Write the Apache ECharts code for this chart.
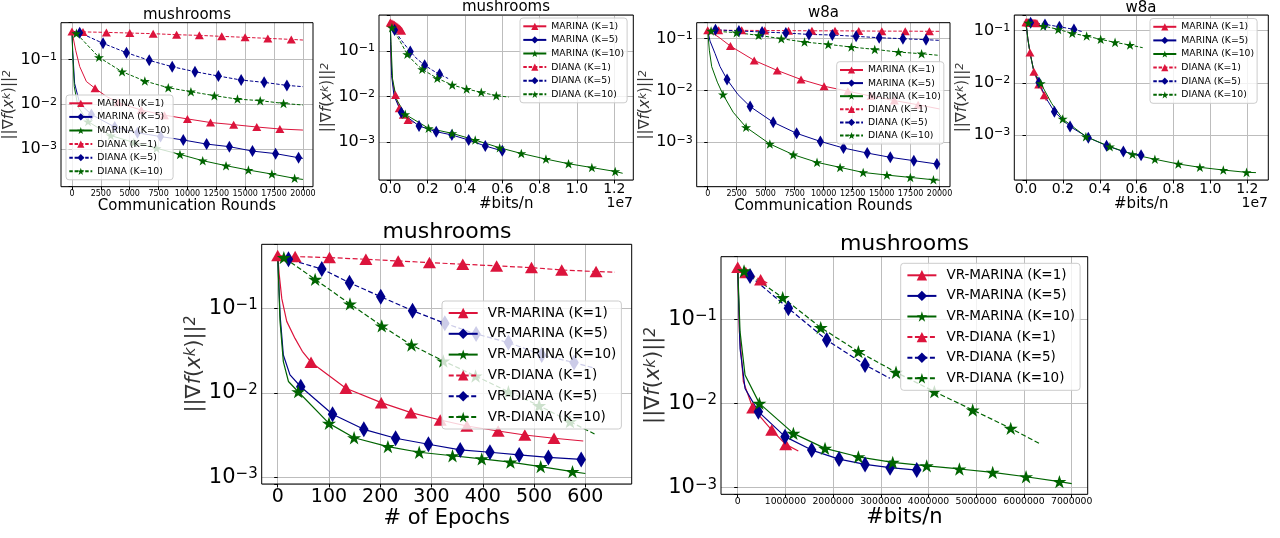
<!DOCTYPE html>
<html>
<head>
<meta charset="utf-8">
<script src="https://cdn.jsdelivr.net/npm/echarts@6.0.0/dist/echarts.min.js"></script>
<style>
html,body{margin:0;padding:0;background:#fff;}
#chart{width:1280px;height:538px;}
</style>
</head>
<body>
<div id="chart"></div>
<script>
// ================= tick values & texts =================
const ticksRounds = [0,2500,5000,7500,10000,12500,15000,17500,20000];
const ticksBits1e7 = [0,2000000,4000000,6000000,8000000,10000000,12000000];
const ticksEpochs = [0,100,200,300,400,500,600];
const ticksBits = [0,1000000,2000000,3000000,4000000,5000000,6000000,7000000];

const namesTop = ['MARINA (K=1)','MARINA (K=5)','MARINA (K=10)','DIANA (K=1)','DIANA (K=5)','DIANA (K=10)'];
const namesVR = ['VR-MARINA (K=1)','VR-MARINA (K=5)','VR-MARINA (K=10)','VR-DIANA (K=1)','VR-DIANA (K=5)','VR-DIANA (K=10)'];
const titles = ['mushrooms','mushrooms','w8a','w8a','mushrooms','mushrooms'];
const xNames = ['Communication Rounds','#bits/n','Communication Rounds','#bits/n','# of Epochs','#bits/n'];

// ================= data (_m: points with marker, _c: line-only points) =================
// Panel 1: mushrooms, communication rounds
const p1_mk1_m = [[0,0.42],[2000,0.0226],[4000,0.011],[6000,0.0074],[8000,0.0057],[10000,0.0047],[12000,0.0039],[14000,0.0035],[16000,0.0031],[18000,0.0028]];
const p1_mk1_c = [[320,0.16],[670,0.069],[1250,0.032],[3000,0.0148],[5000,0.0089],[20000,0.00265]];
const p1_mk5_m = [[1680,0.0059],[3700,0.0031],[5670,0.0023],[7670,0.0019],[9640,0.00159],[11660,0.00129],[13630,0.00113],[15630,0.0009],[17630,0.00079],[19620,0.00064]];
const p1_mk5_c = [[0,0.42],[60,0.16],[230,0.029],[670,0.0104],[20000,0.00062]];
const p1_mk10_m = [[1390,0.0041],[3360,0.002],[5360,0.0014],[7320,0.00104],[9350,0.00076],[11320,0.00055],[13340,0.000425],[15280,0.00034],[17310,0.000277],[19280,0.000222]];
const p1_mk10_c = [[0,0.42],[60,0.14],[200,0.0246],[520,0.0088],[20000,0.00021]];
const p1_dk1_m = [[955,0.41],[2980,0.40],[5010,0.387],[7030,0.374],[9060,0.355],[11030,0.343],[12970,0.326],[14990,0.31],[16960,0.294],[18990,0.279]];
const p1_dk1_c = [[0,0.42],[20000,0.27]];
const p1_dk5_m = [[670,0.394],[2690,0.228],[4720,0.141],[6690,0.095],[8680,0.0686],[10650,0.0531],[12680,0.0425],[14650,0.0346],[16640,0.0307],[18610,0.0263]];
const p1_dk5_c = [[0,0.42],[20000,0.0246]];
const p1_dk10_m = [[380,0.38],[2340,0.111],[4340,0.053],[6310,0.0329],[8340,0.0233],[10300,0.019],[12330,0.0155],[14330,0.013],[16300,0.012],[18320,0.0104]];
const p1_dk10_c = [[0,0.42],[20000,0.0096]];

// Panel 2: mushrooms, #bits/n
const p2_mk1_m = [[0,0.42],[280000,0.0109],[480000,0.0056],[700000,0.004],[950000,0.0031]];
const p2_mk1_c = [[20000,0.16],[42000,0.069],[80000,0.032],[150000,0.018],[1250000,0.0027]];
const p2_mk5_m = [[590000,0.0045],[1540000,0.00228],[2460000,0.00171],[3300000,0.00145],[4200000,0.00112],[5090000,0.00083],[6000000,0.00065]];
const p2_mk5_c = [[0,0.42],[20000,0.16],[70000,0.029],[200000,0.0104],[6150000,0.00062]];
const p2_mk10_m = [[800000,0.0041],[2050000,0.00203],[3320000,0.00157],[4550000,0.00112],[5860000,0.00076],[7020000,0.00057],[8340000,0.00043],[9550000,0.00034],[10800000,0.00028],[12050000,0.00023]];
const p2_mk10_c = [[0,0.42],[40000,0.14],[120000,0.0246],[330000,0.0088],[12450000,0.00021]];
const p2_dk1_m = [[30000,0.41],[95000,0.40],[160000,0.387],[225000,0.374],[290000,0.355],[353000,0.343],[415000,0.326],[480000,0.31],[543000,0.294],[607000,0.279]];
const p2_dk1_c = [[0,0.42],[640000,0.27]];
const p2_dk5_m = [[230000,0.288],[1070000,0.097],[1840000,0.049],[2640000,0.0308]];
const p2_dk5_c = [[0,0.42],[600000,0.17],[1450000,0.066],[2250000,0.038],[3100000,0.025]];
const p2_dk10_m = [[90000,0.324],[910000,0.0845],[1710000,0.0397],[2520000,0.0252],[3320000,0.018],[4090000,0.0147],[4875000,0.01245],[5680000,0.0105]];
const p2_dk10_c = [[0,0.42],[500000,0.17],[1300000,0.056],[6340000,0.0098]];

// Panel 3: w8a, communication rounds
const p3_mk1_m = [[0,0.145],[1960,0.0721],[4010,0.0381],[6000,0.0244],[8050,0.0163],[10040,0.0121],[12090,0.0097],[14090,0.0078],[16100,0.0064],[18150,0.0053]];
const p3_mk1_c = [[500,0.125],[1000,0.105],[20000,0.0044]];
const p3_mk5_m = [[1670,0.0163],[3660,0.0049],[5650,0.00244],[7670,0.00149],[9720,0.00104],[11710,0.000776],[13760,0.00062],[15750,0.000513],[17780,0.000442],[19770,0.000381]];
const p3_mk5_c = [[0,0.145],[200,0.09],[630,0.052],[1060,0.029],[2600,0.0084],[20000,0.000372]];
const p3_mk10_m = [[1320,0.00837],[3310,0.00195],[5360,0.000929],[7380,0.000577],[9430,0.00041],[11420,0.000328],[13410,0.000262],[15460,0.000233],[17480,0.00021],[19470,0.000189]];
const p3_mk10_c = [[0,0.145],[140,0.06],[345,0.0288],[830,0.0145],[2200,0.0038],[20000,0.000186]];
const p3_dk1_m = [[940,0.145],[2930,0.145],[4920,0.144],[6970,0.143],[8990,0.142],[10980,0.142],[13030,0.141],[15020,0.14],[17040,0.14],[19120,0.139]];
const p3_dk1_c = [[0,0.145],[20000,0.139]];
const p3_dk5_m = [[670,0.149],[2690,0.141],[4690,0.135],[6740,0.129],[8730,0.121],[10750,0.118],[12800,0.111],[14790,0.1045],[16840,0.1],[18830,0.0956]];
const p3_dk5_c = [[0,0.145],[20000,0.093]];
const p3_dk10_m = [[290,0.141],[2490,0.131],[4390,0.116],[6350,0.1],[8350,0.0862],[10400,0.0777],[12390,0.069],[14410,0.0622],[16460,0.0552],[18450,0.0513]];
const p3_dk10_c = [[0,0.145],[20000,0.0476]];

// Panel 4: w8a, #bits/n
const p4_mk1_m = [[0,0.145],[217000,0.038],[430000,0.0164],[690000,0.0093],[990000,0.0058]];
const p4_mk1_c = [[100000,0.07],[1100000,0.0045]];
const p4_mk5_m = [[700000,0.0102],[1540000,0.0028],[2390000,0.00145],[3380000,0.00089],[4370000,0.000625],[5280000,0.00048],[6240000,0.000408]];
const p4_mk5_c = [[0,0.145],[100000,0.07],[217000,0.038],[430000,0.0164],[1100000,0.005],[6330000,0.00039]];
const p4_mk10_m = [[800000,0.0098],[1990000,0.00203],[3250000,0.00093],[4550000,0.000597],[5780000,0.000426],[6990000,0.000342],[8260000,0.000278],[9430000,0.00024],[10700000,0.000213],[11960000,0.000192]];
const p4_mk10_c = [[0,0.145],[100000,0.07],[217000,0.038],[430000,0.0164],[1400000,0.004],[12470000,0.00019]];
const p4_dk1_m = [[30000,0.145],[92000,0.145],[153000,0.144],[216000,0.143],[279000,0.142],[340000,0.142],[404000,0.141],[466000,0.14],[528000,0.14],[593000,0.139]];
const p4_dk1_c = [[0,0.145],[620000,0.139]];
const p4_dk5_m = [[250000,0.142],[1030000,0.132],[1810000,0.119],[2600000,0.106]];
const p4_dk5_c = [[0,0.145],[3100000,0.095]];
const p4_dk10_m = [[130000,0.141],[940000,0.123],[1750000,0.106],[2510000,0.0889],[3290000,0.079],[4050000,0.0682],[4830000,0.0597],[5640000,0.0531]];
const p4_dk10_c = [[0,0.145],[6330000,0.0472]];

// Panel 5: mushrooms, epochs (VR)
const p5_mk1_m = [[0,0.42],[65,0.023],[133,0.0113],[202,0.00765],[260,0.00582],[317,0.00477],[369,0.00405],[430,0.00353],[482,0.00317],[539,0.0029]];
const p5_mk1_c = [[3,0.25],[8,0.13],[17.6,0.07],[33.8,0.044],[48,0.031],[596,0.00269]];
const p5_mk5_m = [[45,0.0118],[107,0.00557],[168,0.0037],[230,0.0029],[294,0.00246],[356,0.00211],[414,0.00198],[471,0.00184],[528,0.00172],[592,0.00163]];
const p5_mk5_c = [[0,0.42],[4.6,0.0834],[11,0.028],[24,0.0163],[600,0.0016]];
const p5_mk10_m = [[40,0.0103],[100,0.00435],[149,0.00294],[215,0.00231],[276,0.00198],[341,0.0018],[398,0.00165],[454,0.00151],[513,0.00134],[575,0.00117]];
const p5_mk10_c = [[0,0.42],[4.6,0.0695],[11,0.0234],[21,0.0136],[600,0.00111]];
const p5_dk1_m = [[34,0.409],[101,0.398],[172,0.38],[235,0.363],[296,0.347],[361,0.332],[427,0.317],[495,0.303],[554,0.284],[621,0.272]];
const p5_dk1_c = [[0,0.42],[658,0.267]];
const p5_dk5_m = [[21,0.38],[86,0.292],[140,0.201],[201,0.137],[263,0.0938],[326,0.0664],[387,0.0497],[450,0.0393],[515,0.0281],[578,0.0228]];
const p5_dk5_c = [[0,0.42],[619,0.0195]];
const p5_dk10_m = [[12,0.398],[73,0.22],[141,0.1125],[203,0.0618],[261,0.0368],[323,0.0238],[386,0.0158],[450,0.0103],[510,0.00705],[570,0.00456]];
const p5_dk10_c = [[0,0.42],[618,0.00326]];

// Panel 6: mushrooms, #bits/n (VR)
const p6_mk1_m = [[0,0.415],[314000,0.0089],[713000,0.00484],[1006000,0.00327]];
const p6_mk1_c = [[35000,0.0713],[119000,0.0182],[1270000,0.00273]];
const p6_mk5_m = [[433000,0.008],[992000,0.00404],[1551000,0.0028],[2124000,0.00219],[2669000,0.00189],[3193000,0.00173],[3752000,0.00162]];
const p6_mk5_c = [[0,0.415],[49000,0.0452],[154000,0.0151],[3800000,0.0016]];
const p6_mk10_m = [[454000,0.01004],[1167000,0.00442],[1830000,0.00293],[2529000,0.00233],[3249000,0.002],[3961000,0.00182],[4646000,0.00167],[5344000,0.00152],[6043000,0.00135],[6742000,0.00118]];
const p6_mk10_c = [[0,0.415],[49000,0.0713],[154000,0.0218],[7000000,0.00112]];
const p6_dk1_m = [[170000,0.36],[480000,0.295]];
const p6_dk1_c = [[0,0.415],[620000,0.27]];
const p6_dk5_m = [[258000,0.327],[1062000,0.135],[1865000,0.0568],[2669000,0.0287]];
const p6_dk5_c = [[0,0.415],[3190000,0.0199]];
const p6_dk10_m = [[133000,0.375],[943000,0.181],[1740000,0.0796],[2529000,0.0413],[3318000,0.0235],[4122000,0.01383],[4925000,0.00838],[5722000,0.00507]];
const p6_dk10_c = [[0,0.415],[6357000,0.00327]];

const panelData = [
  [[p1_mk1_m,p1_mk1_c],[p1_mk5_m,p1_mk5_c],[p1_mk10_m,p1_mk10_c],[p1_dk1_m,p1_dk1_c],[p1_dk5_m,p1_dk5_c],[p1_dk10_m,p1_dk10_c]],
  [[p2_mk1_m,p2_mk1_c],[p2_mk5_m,p2_mk5_c],[p2_mk10_m,p2_mk10_c],[p2_dk1_m,p2_dk1_c],[p2_dk5_m,p2_dk5_c],[p2_dk10_m,p2_dk10_c]],
  [[p3_mk1_m,p3_mk1_c],[p3_mk5_m,p3_mk5_c],[p3_mk10_m,p3_mk10_c],[p3_dk1_m,p3_dk1_c],[p3_dk5_m,p3_dk5_c],[p3_dk10_m,p3_dk10_c]],
  [[p4_mk1_m,p4_mk1_c],[p4_mk5_m,p4_mk5_c],[p4_mk10_m,p4_mk10_c],[p4_dk1_m,p4_dk1_c],[p4_dk5_m,p4_dk5_c],[p4_dk10_m,p4_dk10_c]],
  [[p5_mk1_m,p5_mk1_c],[p5_mk5_m,p5_mk5_c],[p5_mk10_m,p5_mk10_c],[p5_dk1_m,p5_dk1_c],[p5_dk5_m,p5_dk5_c],[p5_dk10_m,p5_dk10_c]],
  [[p6_mk1_m,p6_mk1_c],[p6_mk5_m,p6_mk5_c],[p6_mk10_m,p6_mk10_c],[p6_dk1_m,p6_dk1_c],[p6_dk5_m,p6_dk5_c],[p6_dk10_m,p6_dk10_c]]
];

// ================= layout & style =================
const FONT = "'DejaVu Sans', sans-serif";
const COLORS = ['#DC143C','#00008B','#006400'];
const GRIDC = '#bdbdbd';
const STAR = 'path://M0,-1L0.2245,-0.309L0.9511,-0.309L0.3633,0.118L0.5878,0.809L0,0.382L-0.5878,0.809L-0.3633,0.118L-0.9511,-0.309L-0.2245,-0.309Z';

const fmtInt = v => String(Math.round(v));
const fmt1e7 = v => (v / 1e7).toFixed(1);

const layout = [
  {g:[61,22.7,252,164], x:[-950,20870], y:[-3.84,-0.182], xt:ticksRounds, xf:fmtInt, xfs:8, xlm:3, tc:[187,15], xgap:9.5, yngap:36, lg:[66,95], gap:4.6, off:null, big:false},
  {g:[379,15,254.3,165], x:[-605000,13020000], y:[-3.825,-0.212], xt:ticksBits1e7, xf:fmt1e7, xfs:14, xlm:2, tc:[506,7.5], xgap:15, yngap:29, lg:[520,18], gap:4.6, off:[633,203.5], big:false},
  {g:[696.7,22.7,253.3,164], x:[-950,20900], y:[-3.857,-0.691], xt:ticksRounds, xf:fmtInt, xfs:8, xlm:3, tc:[823.5,13], xgap:9.5, yngap:32, lg:[836.7,61.7], gap:4.1, off:null, big:false},
  {g:[1014.3,15,254,165], x:[-634000,13140000], y:[-3.863,-0.699], xt:ticksBits1e7, xf:fmt1e7, xfs:14, xlm:2, tc:[1141,8], xgap:9, yngap:34, lg:[1150,18.5], gap:4.6, off:[1268,203], big:false},
  {g:[261.7,244.3,370,239.7], x:[-31.2,690.5], y:[-3.079,-0.243], xt:ticksEpochs, xf:fmtInt, xfs:19, xlm:4, tc:[447,232.5], xgap:23, yngap:47, lg:[442,301], gap:6.8, off:null, big:true},
  {g:[721,256.7,366.7,237.6], x:[-350000,7335000], y:[-3.078,-0.257], xt:ticksBits, xf:fmtInt, xfs:9.3, xlm:3, tc:[904.5,244], xgap:13, yngap:46, lg:[900.7,263.3], gap:6.6, off:null, big:true}
];

function yFmt(v) {
  const e = Math.log10(v);
  const r = Math.round(e);
  if (Math.abs(e - r) > 1e-6) return '';
  return '{b|10}{s|' + (r < 0 ? '\u2212' : '') + Math.abs(r) + '}';
}

function merge(marks, curve) {
  const pts = marks.map(p => ({value: p, m: true})).concat(curve.map(p => ({value: p, m: false})));
  pts.sort((a, b) => a.value[0] - b.value[0]);
  return pts.map(p => p.m ? {value: p.value} : {value: p.value, symbol: 'none'});
}

const option = {
  animation: false,
  backgroundColor: '#ffffff',
  textStyle: {fontFamily: FONT},
  title: [], grid: [], xAxis: [], yAxis: [], legend: [], series: [], graphic: []
};

layout.forEach((L, k) => {
  const big = L.big;
  const names = big ? namesVR : namesTop;
  const yfs = big ? 21 : 16, ysup = big ? 15 : 11;
  const tfs = big ? 22 : 15, xnfs = big ? 21 : 15, ynfs = big ? 21 : 15;
  const symDefs = [
    {s: 'triangle', z: big ? [13, 11.5] : [9, 8]},
    {s: 'diamond', z: big ? [9.5, 16] : [7, 12]},
    {s: STAR, z: big ? 14 : 10}
  ];

  option.grid.push({left: L.g[0], top: L.g[1], width: L.g[2], height: L.g[3], show: false});

  option.title.push({
    text: titles[k], left: L.tc[0], top: L.tc[1], textAlign: 'center', textVerticalAlign: 'middle', padding: 0,
    textStyle: {fontSize: tfs, fontWeight: 'normal', color: '#000', fontFamily: FONT}
  });

  option.xAxis.push({
    type: 'value', gridIndex: k, min: L.x[0], max: L.x[1],
    name: xNames[k], nameLocation: 'middle', nameGap: L.xgap,
    nameTextStyle: {fontSize: xnfs, color: '#000', fontFamily: FONT},
    axisLine: {show: false},
    axisTick: {show: true, customValues: L.xt, length: 3.5, lineStyle: {color: '#000', width: 1}},
    axisLabel: {customValues: L.xt, margin: L.xlm, fontSize: L.xfs, color: '#000', fontFamily: FONT, formatter: L.xf},
    splitLine: {show: true, lineStyle: {color: GRIDC, width: 1}}
  });

  option.yAxis.push({
    type: 'log', logBase: 10, gridIndex: k,
    min: Math.pow(10, L.y[0]), max: Math.pow(10, L.y[1]),
    name: '{n|||\u2207}{i|f}{n|(}{i|x}{s|k}{n|)||}{s|2}',
    nameLocation: 'middle', nameRotate: 90, nameGap: L.yngap,
    nameTextStyle: {
      color: '#333', fontFamily: FONT,
      rich: {
        n: {fontSize: ynfs, color: '#333', fontFamily: FONT},
        i: {fontSize: ynfs, color: '#333', fontStyle: 'italic', fontFamily: FONT},
        s: {fontSize: Math.round(ynfs * 0.7), color: '#333', fontStyle: 'italic', verticalAlign: 'top', fontFamily: FONT}
      }
    },
    axisLine: {show: false},
    axisTick: {show: true, length: 3.5, lineStyle: {color: '#000', width: 1}},
    axisLabel: {
      margin: 4, formatter: yFmt,
      rich: {
        b: {fontSize: yfs, color: '#000', fontFamily: FONT},
        s: {fontSize: ysup, color: '#000', fontFamily: FONT, verticalAlign: 'top'}
      }
    },
    splitLine: {show: true, lineStyle: {color: GRIDC, width: 1}}
  });

  panelData[k].forEach((pair, i) => {
    const sd = symDefs[i % 3];
    const color = COLORS[i % 3];
    const dashed = i >= 3;
    option.series.push({
      type: 'line', name: names[i], xAxisIndex: k, yAxisIndex: k,
      data: merge(pair[0], pair[1]),
      symbol: sd.s, symbolSize: sd.z, symbolKeepAspect: true, showSymbol: true, showAllSymbol: true,
      itemStyle: {color: color, borderWidth: 0},
      lineStyle: {color: color, width: big ? 1.2 : 1, type: dashed ? (big ? [5, 2.5] : [3.5, 1.8]) : 'solid'},
      emphasis: {disabled: true},
      clip: true, z: 2
    });
  });

  option.legend.push({
    data: names, orient: 'vertical', left: L.lg[0], top: L.lg[1],
    padding: big ? [5, 5, 5, 5.7] : [3.8, 3, 4, 2.3],
    itemWidth: big ? 29 : 23, itemHeight: big ? 13 : 9, itemGap: L.gap,
    backgroundColor: 'rgba(255,255,255,0.8)', borderColor: '#cccccc', borderWidth: 1, borderRadius: 3,
    selectedMode: false,
    textStyle: {fontSize: big ? 13.5 : 9.3, color: '#000', fontFamily: FONT, padding: big ? [0, 0, 0, 5] : 0},
    z: 10
  });

  option.graphic.push({
    type: 'rect', silent: true, z: 100,
    shape: {x: L.g[0], y: L.g[1], width: L.g[2], height: L.g[3]},
    style: {fill: 'none', stroke: '#000', lineWidth: 1}
  });
  if (L.off) {
    option.graphic.push({
      type: 'text', silent: true, z: 100, x: L.off[0], y: L.off[1],
      style: {text: '1e7', fontSize: 14, fontFamily: FONT, fill: '#000', align: 'right', verticalAlign: 'middle', textAlign: 'right', textVerticalAlign: 'middle'}
    });
  }
});

const chart = echarts.init(document.getElementById('chart'), null, {renderer: 'canvas', width: 1280, height: 538});
chart.setOption(option);
</script>
</body>
</html>
